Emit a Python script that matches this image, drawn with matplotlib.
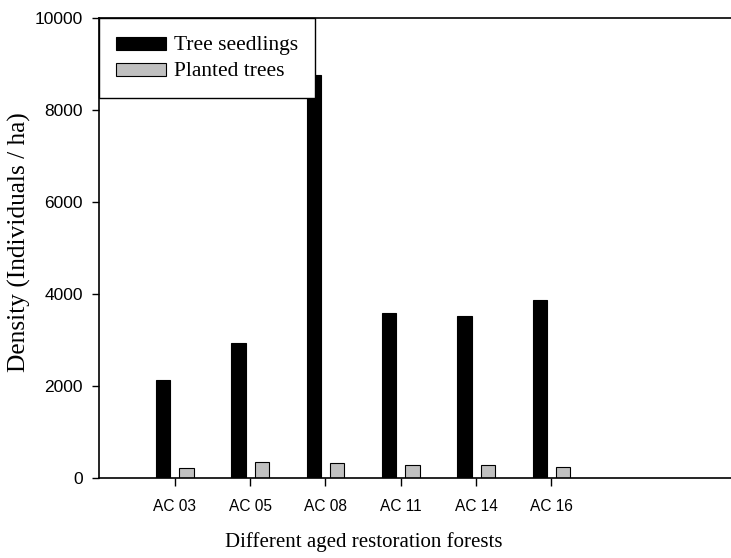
import matplotlib
matplotlib.use("Agg")
import matplotlib.pyplot as plt
from matplotlib.patches import Rectangle
from matplotlib.container import BarContainer
from matplotlib.legend_handler import HandlerPatch, update_from_first_child
import numpy as np

categories = ["AC 03", "AC 05", "AC 08", "AC 11", "AC 14", "AC 16"]
tree_seedlings = [2130, 2935, 8760, 3587, 3515, 3870]
planted_trees = [217, 348, 326, 268, 276, 224]
y_ticks = [0, 2000, 4000, 6000, 8000, 10000]

fig = plt.figure(figsize=(7.31, 5.58), dpi=100)
W, H = 731, 558
ax = fig.add_axes([99.3 / W, (H - 477.7) / H, (W - 99.3) / W, (477.7 - 17.7) / H])

x = np.arange(1, len(categories) + 1)
bw = 0.19
ax.bar(x - 0.155, tree_seedlings, width=bw, color="black", edgecolor="black",
       linewidth=0.8, label="Tree seedlings")
ax.bar(x + 0.155, planted_trees, width=bw, color="#c0c0c0", edgecolor="black",
       linewidth=0.8, label="Planted trees")

ax.set_xlim(0, 632 / 75.4)
ax.set_ylim(0, 10000)
ax.set_xticks(x)
ax.set_xticklabels(categories, fontfamily="Liberation Sans", fontsize=11.2)
ax.set_yticks(y_ticks)
ax.set_yticklabels([str(v) for v in y_ticks], fontfamily="Liberation Sans", fontsize=12.5)
ax.tick_params(direction="out", length=5, width=1, color="black")
ax.tick_params(axis="y", pad=7)
ax.tick_params(axis="x", length=6, pad=9)

ax.spines["right"].set_visible(False)
for s in ["left", "bottom", "top"]:
    ax.spines[s].set_linewidth(1.2)

ax.set_ylabel("Density (Individuals / ha)", fontfamily="Liberation Serif", fontsize=18.3)
ax.yaxis.set_label_coords(-(99.3 - 31) / 631.7, 0.5 + 5.2 / 460)
ax.set_xlabel("Different aged restoration forests", fontfamily="Liberation Serif", fontsize=15)
ax.xaxis.set_label_coords((363.5 - 99.3) / 631.7, -(532 - 477.7) / 460)


def baseline_patch(legend, orig_handle, xdescent, ydescent, width, height, fontsize):
    h = 0.6 * fontsize
    return Rectangle((-xdescent, 0), width, h)


leg = ax.legend(loc="upper left", borderaxespad=0, fancybox=False, framealpha=1,
                edgecolor="black", prop={"family": "Liberation Serif", "size": 15.5},
                handlelength=2.33, handleheight=0.7, handletextpad=0.36,
                borderpad=0.78, labelspacing=0.3,
                handler_map={BarContainer: HandlerPatch(patch_func=baseline_patch,
                                                        update_func=update_from_first_child)})
leg.get_frame().set_linewidth(1.0)

fig.savefig("out.png", dpi=100)
